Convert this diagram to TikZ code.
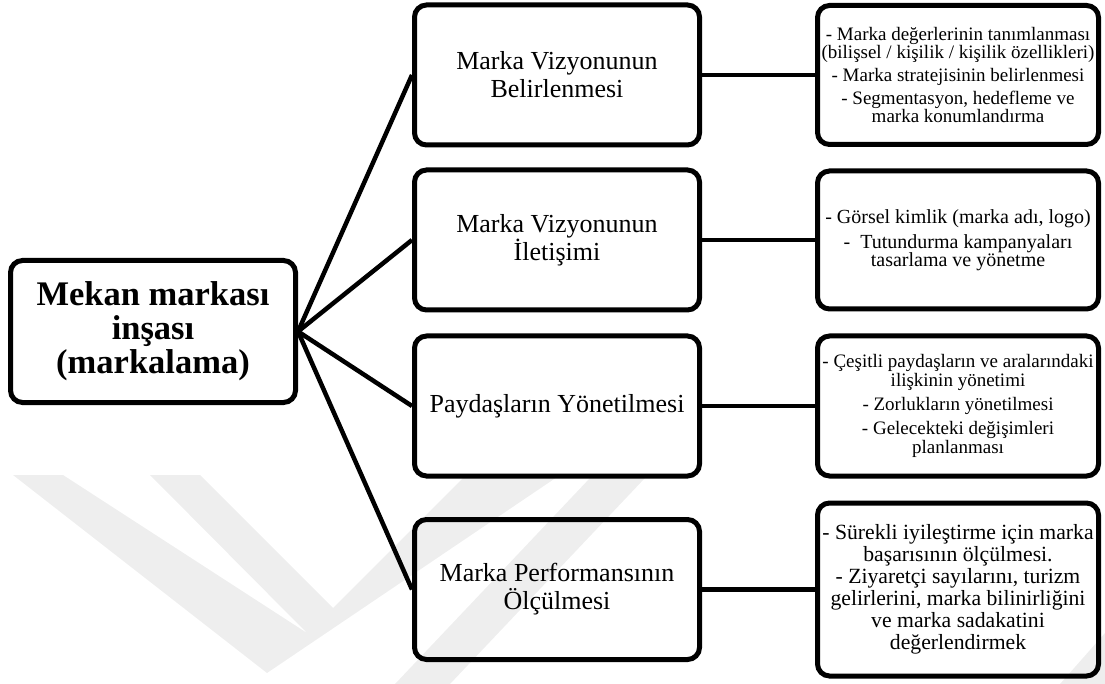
\documentclass[tikz,border=0pt]{standalone}
\usepackage{fontspec}
\setmainfont{Liberation Serif}
\definecolor{wmgray}{RGB}{238,238,238}
\begin{document}
\begin{tikzpicture}[x=1pt,y=-1pt,
  box/.style={draw=black, line width=5pt, rounded corners=12pt, align=center,
              inner sep=0pt, text=black},
  rootbox/.style={box, minimum width=285pt, minimum height=142pt,
                  font=\bfseries\fontsize{34.5}{34}\selectfont},
  midbox/.style={box, minimum width=285pt, minimum height=140pt,
                 font=\fontsize{26}{28}\selectfont},
  notebox/.style={box, minimum width=281pt},
  link/.style={line width=4.5pt},
  wm/.style={fill=wmgray, draw=none}]
\useasboundingbox (0,0) rectangle (1105,684);

% faint background emblem
\fill[wm] (13,475) -- (63,475) -- (307,633) -- (150,475) -- (200,475)
          -- (333,608) -- (466,475) -- (560,475) -- (267,673) -- cycle;
\fill[wm] (590,478) -- (645,478) -- (450,684) -- (395,684) -- cycle;
\fill[wm] (1060,684) -- (1105,633) -- (1105,684) -- cycle;

% main topic
\node[rootbox] (root) at (153,331.5) {Mekan markası\\inşası\\(markalama)};

% second level
\node[midbox] (m1) at (557,75)    {Marka Vizyonunun\\Belirlenmesi};
\node[midbox] (m2) at (557,240)   {Marka Vizyonunun\\İletişimi};
\node[midbox] (m3) at (557,406)   {Paydaşların Yönetilmesi};
\node[midbox] (m4) at (557,589.5) {Marka Performansının\\Ölçülmesi};

% details
\node[notebox, minimum height=139pt, font=\fontsize{19}{18}\selectfont] (r1) at (958,75)
  {- Marka değerlerinin tanımlanması\\(bilişsel / kişilik / kişilik özellikleri)\\[5pt]
   - Marka stratejisinin belirlenmesi\\[5pt]
   - Segmentasyon, hedefleme ve\\marka konumlandırma};
\node[notebox, minimum height=138pt, font=\fontsize{20}{18.5}\selectfont] (r2) at (958,240)
  {- Görsel kimlik (marka adı, logo)\\[6.5pt]
   -\ \ Tutundurma kampanyaları\\tasarlama ve yönetme};
\node[notebox, minimum height=140pt, font=\fontsize{19}{19}\selectfont] (r3) at (958,406)
  {- Çeşitli paydaşların ve aralarındaki\\ilişkinin yönetimi\\[5pt]
   - Zorlukların yönetilmesi\\[5pt]
   - Gelecekteki değişimleri\\planlanması};
\node[notebox, minimum height=173pt, font=\fontsize{21.7}{22}\selectfont] (r4) at (958,589.5)
  {- Sürekli iyileştirme için marka\\başarısının ölçülmesi.\\
   - Ziyaretçi sayılarını, turizm\\gelirlerini, marka bilinirliğini\\
   ve marka sadakatini\\değerlendirmek};

% connectors
\foreach \m in {m1,m2,m3,m4}
  \draw[link] (root.east) -- (\m.west);
\draw[link] (m1.east) -- (r1.west);
\draw[link] (m2.east) -- (r2.west);
\draw[link] (m3.east) -- (r3.west);
\draw[link] (m4.east) -- (r4.west);
\end{tikzpicture}
\end{document}
